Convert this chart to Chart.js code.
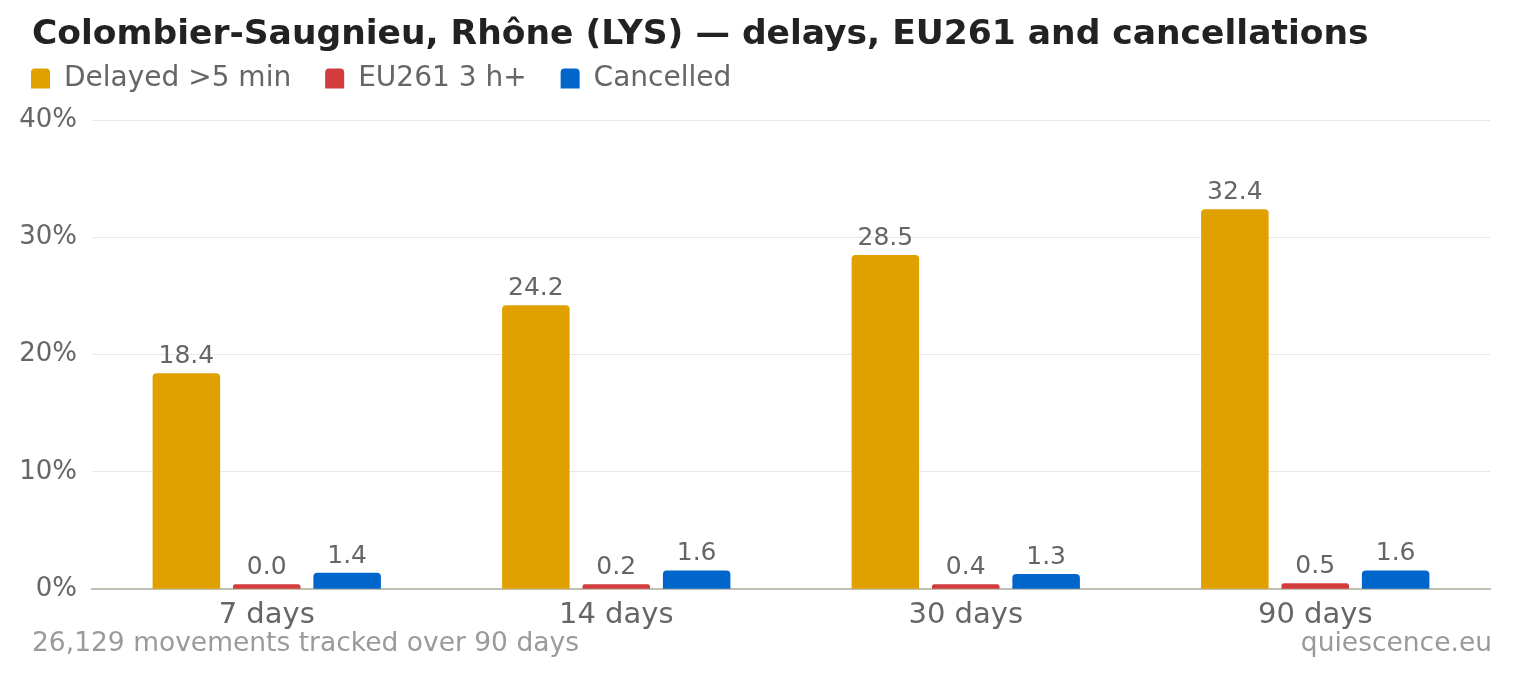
<!DOCTYPE html>
<html>
<head>
<meta charset="utf-8">
<script src="https://cdn.jsdelivr.net/npm/chart.js@4.4.1/dist/chart.umd.min.js"></script>
<style>
  html, body { margin: 0; padding: 0; background: #fff; }
  #wrap { position: relative; width: 1520px; height: 680px; font-family: "DejaVu Sans", sans-serif; }
  #note { position: absolute; left: 32px; top: 626px; font-size: 26.5px; color: #9a9a9e; }
  #site { position: absolute; right: 28px; top: 626px; font-size: 26.5px; color: #9a9a9e; }
</style>
</head>
<body>
<div id="wrap">
  <canvas id="chart" width="1520" height="680"></canvas>
  <div id="note">26,129 movements tracked over 90 days</div>
  <div id="site">quiescence.eu</div>
</div>
<script>
/* LYS delays chart */

const PERIODS = ["7 days", "14 days", "30 days", "90 days"];
const DELAYED = [18.4, 24.2, 28.5, 32.4];
const EU261 = [0.0, 0.2, 0.4, 0.5];
const CANCELLED = [1.4, 1.6, 1.3, 1.6];
const Y_TICKS = [0, 10, 20, 30, 40];

Chart.defaults.font.family = "'DejaVu Sans', sans-serif";
Chart.defaults.color = "#666";

// value above each bar, and nudges title + legend into place
const valueLabels = {
  id: "valueLabels",
  afterLayout(chart){
    const t = chart.titleBlock;
    if(t){ t.left += 14; t.right += 14; t.top += 2; t.bottom += 2; }
    const lg = chart.legend;
    if(lg){ lg.left -= 21; lg.right -= 21; lg.top -= 23; lg.bottom -= 23; }
  },
  afterDatasetsDraw(chart){
    const ctx = chart.ctx;
    ctx.save();
    ctx.font = "25px 'DejaVu Sans', sans-serif";
    ctx.fillStyle = "#666";
    ctx.textAlign = "center";
    ctx.textBaseline = "alphabetic";
    chart.data.datasets.forEach((ds, i) => {
      chart.getDatasetMeta(i).data.forEach((bar, j) => {
        ctx.fillText(ds.data[j].toFixed(1), bar.x, bar.y - 10);
      });
    });
    ctx.restore();
  }
};

function barSet(label, data, color){
  return {
    label: label,
    data: data,
    backgroundColor: color,
    borderRadius: { topLeft: 4, topRight: 4 },
    borderSkipped: "bottom",
    minBarLength: 5
  };
}

new Chart(document.getElementById("chart"), {
  type: "bar",
  data: {
    labels: PERIODS,
    datasets: [
      barSet("Delayed >5 min", DELAYED, "#e0a000"),
      barSet("EU261 3 h+", EU261, "#d33c3c"),
      barSet("Cancelled", CANCELLED, "#0066cc")
    ]
  },
  options: {
    responsive: false,
    animation: false,
    categoryPercentage: 0.69,
    barPercentage: 0.84,
    layout: { padding: { left: 18, right: 30, top: 12, bottom: 38 } },
    plugins: {
      title: {
        display: true,
        text: "Colombier-Saugnieu, Rhône (LYS) — delays, EU261 and cancellations",
        align: "start",
        color: "#222",
        font: { size: 34.5, weight: "bold" },
        padding: { top: 0, bottom: 0 }
      },
      legend: {
        align: "start",
        maxHeight: 66.6,
        labels: {
          boxWidth: 19,
          boxHeight: 20,
          padding: 34,
          font: { size: 28 },
          color: "#666",
          useBorderRadius: true
        }
      },
      tooltip: { enabled: false }
    },
    scales: {
      x: {
        grid: { display: false, drawTicks: false },
        border: { color: "#c0c0b2", width: 2 },
        ticks: { font: { size: 29 }, color: "#666", padding: 9 }
      },
      y: {
        min: 0,
        max: 40,
        afterFit(scale){ scale.width = 74; },
        afterBuildTicks(scale){ scale.ticks = Y_TICKS.map(v => ({ value: v })); },
        grid: { color: "#e8e8e8", lineWidth: 1, drawTicks: false },
        border: { display: false },
        ticks: {
          font: { size: 26 },
          color: "#666",
          padding: 15,
          callback: v => v + "%"
        }
      }
    }
  },
  plugins: [valueLabels]
});
</script>
</body>
</html>
